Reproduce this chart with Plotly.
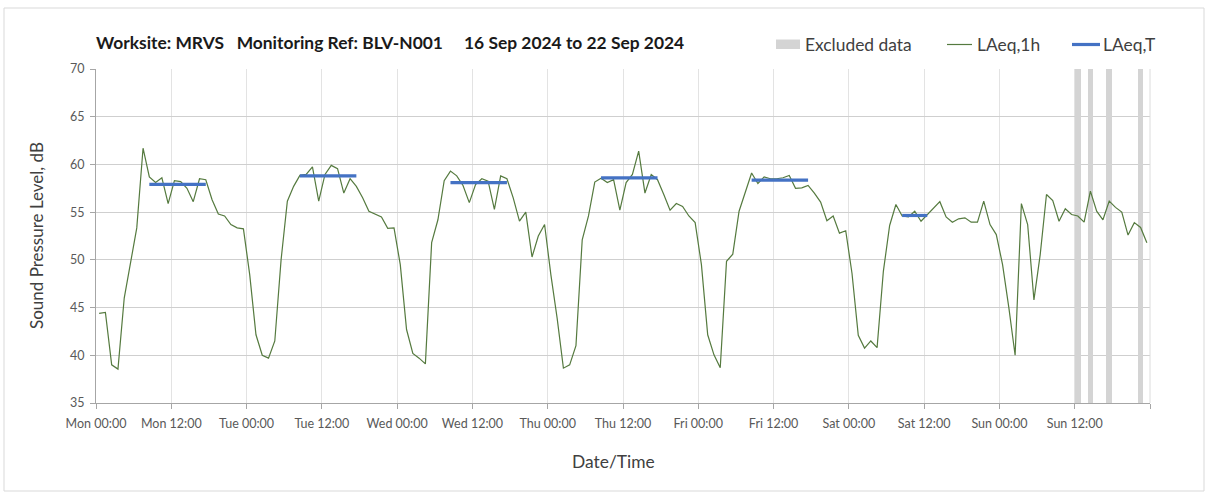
import plotly.graph_objects as go
import pandas as pd

# ---------------- data ----------------
start = "2024-09-16 00:00"

laeq_1h = [
    44.4, 44.5, 39.0, 38.55, 46.0, 49.85, 53.35, 61.7, 58.7, 58.1, 58.6, 55.9,
    58.3, 58.2, 57.5, 56.1, 58.5, 58.4, 56.3, 54.8, 54.6, 53.7, 53.35, 53.25,
    48.45, 42.15, 40.0, 39.7, 41.5, 50.0, 56.15, 57.7, 58.85, 58.95, 59.75, 56.15,
    58.95, 59.9, 59.55, 57.0, 58.5, 57.7, 56.5, 55.1, 54.8, 54.5, 53.3, 53.35,
    49.5, 42.7, 40.2, 39.7, 39.1, 51.8, 54.2, 58.3, 59.3, 58.8, 57.8, 56.0,
    57.9, 58.5, 58.25, 55.3, 58.8, 58.5, 56.5, 54.05, 55.0, 50.3, 52.5, 53.7,
    48.45, 43.9, 38.65, 39.0, 41.0, 52.1, 54.6, 58.15, 58.55, 58.1, 58.4, 55.2,
    58.1, 58.95, 61.4, 57.0, 58.95, 58.4, 56.85, 55.2, 55.9, 55.6, 54.6, 53.9,
    49.5, 42.15, 40.05, 38.7, 49.85, 50.6, 55.1, 57.0, 59.1, 58.0, 58.7, 58.5,
    58.5, 58.6, 58.85, 57.5, 57.55, 57.8, 57.0, 56.05, 54.1, 54.6, 52.8, 53.05,
    48.6, 42.1, 40.75, 41.5, 40.8, 48.8, 53.6, 55.8, 54.6, 54.5, 55.1, 54.05,
    54.7, 55.4, 56.1, 54.5, 53.95, 54.3, 54.4, 53.95, 53.95, 56.15, 53.7, 52.65,
    49.5, 45.0, 40.0, 55.9, 53.7, 45.8, 50.55, 56.85, 56.2, 54.05, 55.35, 54.75,
    54.6, 53.95, 57.2, 55.1, 54.2, 56.15, 55.5, 55.0, 52.6, 53.9, 53.4, 51.8,
]

# LAeq,T periods (start inclusive, end exclusive) and values
laeq_t_start = ["2024-09-16 08:00", "2024-09-17 08:00", "2024-09-18 08:00",
                "2024-09-19 08:00", "2024-09-20 08:00", "2024-09-21 08:00"]
laeq_t_end = ["2024-09-16 18:00", "2024-09-17 18:00", "2024-09-18 18:00",
              "2024-09-19 18:00", "2024-09-20 18:00", "2024-09-21 13:00"]
laeq_t_values = [57.9, 58.8, 58.1, 58.6, 58.35, 54.65]

# excluded hours
excluded_hours = ["2024-09-22 12:00", "2024-09-22 14:00",
                  "2024-09-22 17:00", "2024-09-22 22:00"]

title_text = ("Worksite: MRVS\u00a0\u00a0\u00a0Monitoring Ref: BLV-N001"
              "\u00a0\u00a0\u00a0\u00a0\u00a016 Sep 2024 to 22 Sep 2024")

# ---------------- derived ----------------
times = pd.date_range(start, periods=len(laeq_1h), freq="h")
laeq_t_series = []
for t in times:
    v = None
    for s, e, val in zip(laeq_t_start, laeq_t_end, laeq_t_values):
        if pd.Timestamp(s) <= t < pd.Timestamp(e):
            v = val
    laeq_t_series.append(v)

tickvals = pd.date_range(start, periods=15, freq="12h")
ticktext = [t.strftime("%a %H:%M") for t in tickvals[:-1]] + [""]

HOUR = 3600000
FONT = "Lato, 'Open Sans', sans-serif"

# layout geometry (pixels)
W, H = 1208, 495
ML, MR, MT, MB = 96, 58, 69, 92
PW, PH = W - ML - MR, H - MT - MB


def px(x):
    return (x - ML) / PW


def py(y):
    return (H - MB - y) / PH


fig = go.Figure()
fig.add_trace(go.Bar(
    x=pd.to_datetime(excluded_hours), y=[70] * len(excluded_hours),
    width=0.9 * HOUR, xperiod=HOUR, xperiodalignment="middle",
    marker=dict(color="#d4d4d4", line=dict(width=0)),
    name="Excluded data", showlegend=False,
))
fig.add_trace(go.Scatter(
    x=times, y=laeq_1h, mode="lines", xperiod=HOUR, xperiodalignment="middle",
    line=dict(color="#557a3f", width=1.2), name="LAeq,1h", showlegend=False,
))
fig.add_trace(go.Scatter(
    x=times, y=laeq_t_series, mode="lines", xperiod=HOUR, xperiodalignment="middle",
    line=dict(color="#4472c4", width=3.2), connectgaps=False,
    name="LAeq,T", showlegend=False,
))

shapes = [
    # outer border
    dict(type="rect", xref="paper", yref="paper", x0=px(4), x1=px(1204),
         y0=py(491), y1=py(8), line=dict(color="#d9d9d9", width=1),
         fillcolor="rgba(0,0,0,0)", layer="below"),
    # legend symbols
    dict(type="rect", xref="paper", yref="paper", x0=px(776), x1=px(800),
         y0=py(49), y1=py(39.5), line=dict(width=0), fillcolor="#d4d4d4"),
    dict(type="line", xref="paper", yref="paper", x0=px(947), x1=px(972),
         y0=py(44.5), y1=py(44.5), line=dict(color="#557a3f", width=1.2)),
    dict(type="line", xref="paper", yref="paper", x0=px(1072), x1=px(1100),
         y0=py(44.5), y1=py(44.5), line=dict(color="#4472c4", width=3.2)),
    # right edge of plot area
    dict(type="line", xref="paper", yref="paper", x0=1, x1=1, y0=0, y1=1,
         line=dict(color="#dcdcdc", width=1)),
]

annotations = [
    dict(text="<b>" + title_text + "</b>", xref="paper", yref="paper",
         x=px(94), y=py(42.5), xanchor="left", yanchor="middle", showarrow=False,
         font=dict(family=FONT, size=17.4, color="#1a1a1a")),
    dict(text="Excluded data", xref="paper", yref="paper", x=px(803), y=py(44.5),
         xanchor="left", yanchor="middle", showarrow=False,
         font=dict(family=FONT, size=17.4, color="#404040")),
    dict(text="LAeq,1h", xref="paper", yref="paper", x=px(975), y=py(44.5),
         xanchor="left", yanchor="middle", showarrow=False,
         font=dict(family=FONT, size=17.4, color="#404040")),
    dict(text="LAeq,T", xref="paper", yref="paper", x=px(1101), y=py(44.5),
         xanchor="left", yanchor="middle", showarrow=False,
         font=dict(family=FONT, size=17.4, color="#404040")),
    dict(text="Sound Pressure Level, dB", xref="paper", yref="paper",
         x=px(36), y=py(236), xanchor="center", yanchor="middle", textangle=-90,
         showarrow=False, font=dict(family=FONT, size=17, color="#404040")),
    dict(text="Date/Time", xref="paper", yref="paper", x=px(613), y=py(461),
         xanchor="center", yanchor="middle", showarrow=False,
         font=dict(family=FONT, size=17.4, color="#404040")),
]

fig.update_layout(
    width=W, height=H,
    margin=dict(l=ML, r=MR, t=MT, b=MB, pad=0),
    paper_bgcolor="white", plot_bgcolor="white",
    bargap=0, showlegend=False,
    shapes=shapes, annotations=annotations,
    font=dict(family=FONT, color="#595959"),
    xaxis=dict(
        type="date", range=[tickvals[0], tickvals[-1]],
        tickmode="array", tickvals=tickvals, ticktext=ticktext,
        showgrid=True, gridcolor="#e3e3e3", gridwidth=1,
        showline=True, linecolor="#a6a6a6", linewidth=1,
        ticks="outside", ticklen=5, tickcolor="#a6a6a6",
        tickfont=dict(family=FONT, size=12.5, color="#595959"),
        ticklabelstandoff=4, zeroline=False, fixedrange=True,
    ),
    yaxis=dict(
        range=[35, 70], dtick=5, tick0=35,
        showgrid=True, gridcolor="#cfcfcf", gridwidth=1,
        showline=True, linecolor="#a6a6a6", linewidth=1,
        ticks="outside", ticklen=5, tickcolor="#a6a6a6",
        tickfont=dict(family=FONT, size=12.5, color="#595959"),
        ticklabelstandoff=3, zeroline=False, fixedrange=True,
    ),
)

fig.write_html(
    "out.html",
    config={"displayModeBar": False},
    post_script="document.body.style.margin='0';document.body.style.padding='0';",
)
